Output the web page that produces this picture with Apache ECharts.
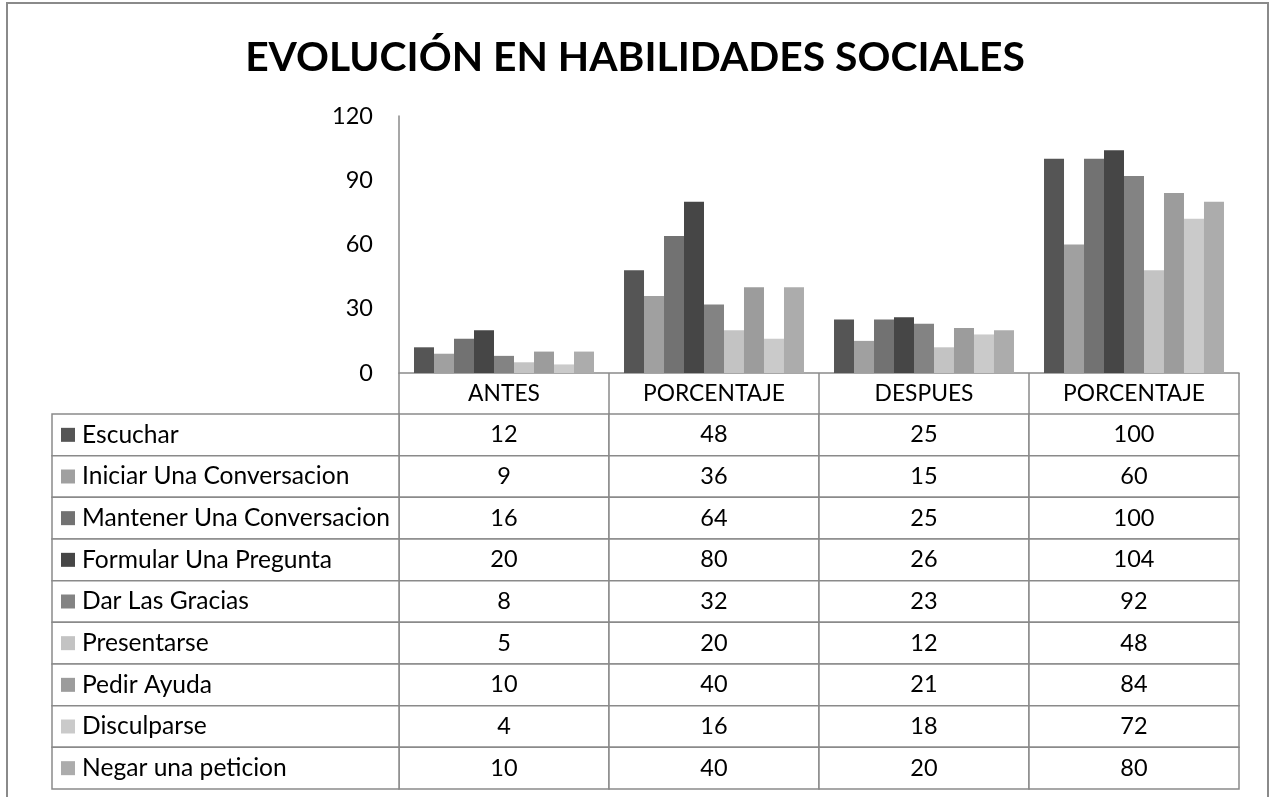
<!DOCTYPE html>
<html>
<head>
<meta charset="utf-8">
<script src="https://cdn.jsdelivr.net/npm/echarts@6/dist/echarts.min.js"></script>
<style>
html,body{margin:0;padding:0;background:#fff;}
#chart{width:1270px;height:797px;}
</style>
</head>
<body>
<div id="chart"></div>
<script>
const titleText = 'EVOLUCIÓN EN HABILIDADES SOCIALES';
const categories = ['ANTES', 'PORCENTAJE', 'DESPUES', 'PORCENTAJE'];
const skills = ['Escuchar', 'Iniciar Una Conversacion', 'Mantener Una Conversacion', 'Formular Una Pregunta',
  'Dar Las Gracias', 'Presentarse', 'Pedir Ayuda', 'Disculparse', 'Negar una peticion'];
const escuchar = [12, 48, 25, 100];
const iniciar = [9, 36, 15, 60];
const mantener = [16, 64, 25, 100];
const formular = [20, 80, 26, 104];
const darGracias = [8, 32, 23, 92];
const presentarse = [5, 20, 12, 48];
const pedirAyuda = [10, 40, 21, 84];
const disculparse = [4, 16, 18, 72];
const negar = [10, 40, 20, 80];
const seriesValues = [escuchar, iniciar, mantener, formular, darGracias, presentarse, pedirAyuda, disculparse, negar];
const colors = ['#555555', '#a0a0a0', '#727272', '#464646', '#838383', '#c3c3c3', '#9c9c9c', '#cacaca', '#acacac'];
const yTicks = { min: 0, max: 120, interval: 30 };

const FONT = 'Lato';
const LINE = '#8a8a8a';
const labelColW = 347;

const tableData = [];
seriesValues.forEach((vals, r) => vals.forEach((v, c) => tableData.push([c, r, v])));
const labelData = skills.map((s, r) => [0, r, s]);

const chart = echarts.init(document.getElementById('chart'), null, { renderer: 'canvas' });

const barSeries = skills.map((name, i) => ({
  name: name,
  type: 'bar',
  xAxisIndex: 0,
  yAxisIndex: 0,
  data: seriesValues[i],
  barGap: '0%',
  barCategoryGap: '14.3%',
  itemStyle: { color: colors[i] },
  emphasis: { disabled: true },
  animation: false
}));

const option = {
  animation: false,
  title: {
    text: titleText,
    left: 'center',
    top: 32,
    textStyle: { fontFamily: FONT, fontWeight: 'bold', fontSize: 40.8, color: '#000' }
  },
  graphic: [{
    type: 'rect',
    shape: { x: 7, y: 3, width: 1261, height: 820 },
    style: { fill: 'none', stroke: '#8a8a8a', lineWidth: 2 },
    silent: true
  }],
  grid: [
    { left: 399, right: 31, top: 116, bottom: 424 },
    { left: 399, right: 31, top: 414, bottom: 8 }
  ],
  xAxis: [{
    type: 'category',
    gridIndex: 0,
    data: categories.map((c) => ({ value: c })),
    axisLine: { show: true, lineStyle: { color: LINE, width: 1.5 } },
    axisTick: { show: true, interval: 0, length: 41, lineStyle: { color: LINE, width: 1.5 } },
    axisLabel: { interval: 0, fontFamily: FONT, fontSize: 22.8, color: '#000', margin: 9 },
    splitLine: { show: false }
  }, {
    type: 'category',
    gridIndex: 1,
    data: categories.map((c, i) => i),
    show: false
  }],
  yAxis: [{
    type: 'value',
    gridIndex: 0,
    min: yTicks.min,
    max: yTicks.max,
    interval: yTicks.interval,
    axisLine: { show: true, lineStyle: { color: LINE, width: 1.5 } },
    axisTick: { show: false },
    splitLine: { show: false },
    axisLabel: { fontFamily: FONT, fontSize: 23.5, color: '#000', margin: 26 }
  }, {
    type: 'category',
    gridIndex: 1,
    inverse: true,
    data: skills.map((s, i) => i),
    show: false
  }],
  series: barSeries.concat([{
    type: 'custom',
    xAxisIndex: 1,
    yAxisIndex: 1,
    data: tableData,
    silent: true,
    clip: false,
    renderItem: function (params, api) {
      const p = api.coord([api.value(0), api.value(1)]);
      const s = api.size([1, 1]);
      return {
        type: 'group',
        children: [{
          type: 'rect',
          shape: { x: p[0] - s[0] / 2, y: p[1] - s[1] / 2, width: s[0], height: s[1] },
          style: { fill: '#fff', stroke: LINE, lineWidth: 1.5 }
        }, {
          type: 'text',
          style: {
            x: p[0], y: p[1], text: String(api.value(2)),
            fontFamily: FONT, fontSize: 23.5, fill: '#000', align: 'center', verticalAlign: 'middle'
          }
        }]
      };
    }
  }, {
    type: 'custom',
    xAxisIndex: 1,
    yAxisIndex: 1,
    data: labelData,
    silent: true,
    clip: false,
    renderItem: function (params, api) {
      const p = api.coord([0, api.value(1)]);
      const s = api.size([1, 1]);
      const x0 = params.coordSys.x;
      const idx = params.dataIndex;
      return {
        type: 'group',
        children: [{
          type: 'rect',
          shape: { x: x0 - labelColW, y: p[1] - s[1] / 2, width: labelColW, height: s[1] },
          style: { fill: '#fff', stroke: LINE, lineWidth: 1.5 }
        }, {
          type: 'rect',
          shape: { x: x0 - 338, y: p[1] - 7, width: 14, height: 14 },
          style: { fill: colors[idx] }
        }, {
          type: 'text',
          style: {
            x: x0 - 317, y: p[1], text: skills[idx],
            fontFamily: FONT, fontSize: 24.6, fill: '#000', align: 'left', verticalAlign: 'middle'
          }
        }]
      };
    }
  }])
};
chart.setOption(option);
</script>
</body>
</html>
